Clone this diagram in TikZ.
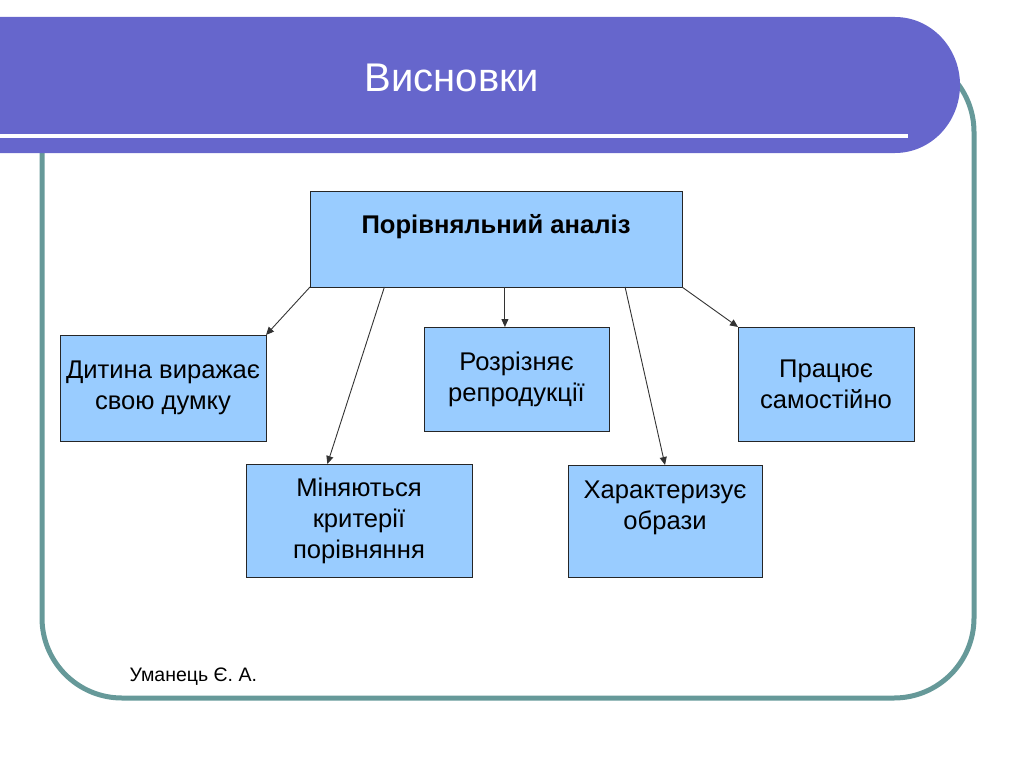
\documentclass[tikz,border=0pt]{standalone}
\usepackage{fontspec}
\setmainfont{Liberation Sans}
\definecolor{bannerblue}{HTML}{6666CC}
\definecolor{frameteal}{HTML}{669999}
\definecolor{boxblue}{HTML}{99CCFF}
\usetikzlibrary{arrows.meta, positioning, calc}
\tikzset{
	cbox/.style={draw=black!85, fill=boxblue, line width=1pt, align=center,
		inner sep=0pt, outer sep=0pt, font=\fontsize{25.6pt}{31pt}\selectfont},
	carr/.style={-{Triangle[length=8pt, width=7pt]}, line width=0.9pt, draw=black!80}
}

\begin{document}
\begin{tikzpicture}[x=1pt, y=-1pt]
	\useasboundingbox (0,0) rectangle (1024,768);
	\draw[frameteal, line width=5pt, rounded corners=80pt] (42,52) rectangle (974,698);
	\fill[bannerblue] (0,17) -- (895,17) arc[start angle=-90, end angle=90, x radius=65, y radius=68] -- (0,153) -- cycle;
	\draw[white, line width=4pt] (0,136) -- (908,136);
	\node[text=white, font=\fontsize{40pt}{48pt}\selectfont] (title) at (452,78) {Висновки};
	\node[cbox, minimum width=372pt, minimum height=96pt] (main) at (496,239) {\textbf{Порівняльний аналіз}\\~};
	\node[cbox, minimum width=206pt, minimum height=106pt, below left=48pt and 44pt of main.south west] (dytyna) {Дитина виражає\\свою думку};
	\node[cbox, minimum width=226pt, minimum height=113pt, below left=177pt and 24pt of main.south] (minyayutsya) {Міняються\\критерії\\порівняння};
	\node[cbox, minimum width=185pt, minimum height=104pt, below=40pt of main.south, xshift=20.5pt] (rozriznyaye) {Розрізняє\\репродукції};
	\node[cbox, minimum width=194pt, minimum height=112pt, below right=178pt and 72pt of main.south] (kharakteryzuye) {Характеризує\\образи\\~};
	\node[cbox, minimum width=176pt, minimum height=114pt, below right=40pt and 56pt of main.south east] (pratsyuye) {Працює\\самостійно};
	\draw[carr] (main.south west) -- (dytyna.north east);
	\draw[carr] ($(main.south west)!0.2!(main.south east)$) -- ($(minyayutsya.north west)!0.36!(minyayutsya.north east)$);
	\draw[carr] ($(main.south west)!0.524!(main.south east)$) coordinate (m3) -- (m3 |- rozriznyaye.north);
	\draw[carr] ($(main.south west)!0.847!(main.south east)$) -- (kharakteryzuye.north);
	\draw[carr] (main.south east) -- (pratsyuye.north west);
	\node[anchor=west, font=\fontsize{19.5pt}{24pt}\selectfont] (author) at (126,677) {Уманець Є. А.};
\end{tikzpicture}
\end{document}
